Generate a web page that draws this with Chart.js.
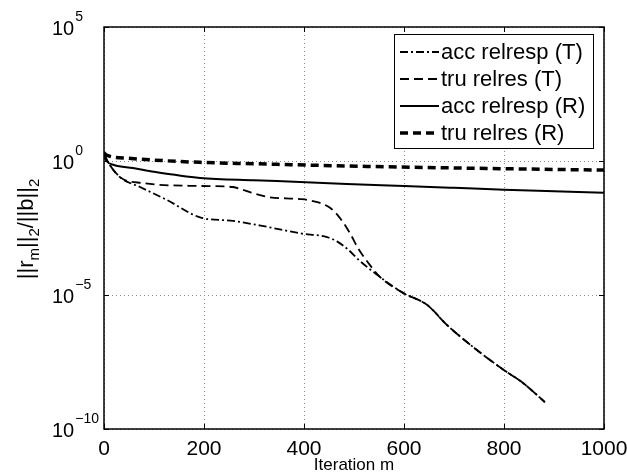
<!DOCTYPE html>
<html>
<head>
<meta charset="utf-8">
<script src="https://cdn.jsdelivr.net/npm/chart.js@4.4.0/dist/chart.umd.min.js"></script>
<style>
  html, body { margin: 0; padding: 0; background: #fff; }
</style>
</head>
<body>
<canvas id="myChart" width="627" height="476"></canvas>
<script>
// x axis
const xTicks = [0, 200, 400, 600, 800, 1000];
// y axis decades shown
const yTicks = [1e-10, 1e-5, 1e0, 1e5];
const yTickExp = ['\u221210', '\u22125', '0', '5'];

// acc relresp (T)
const accTIter = [0, 6, 32, 72, 126, 192, 258, 326, 392, 446, 466, 488, 510, 552, 598, 646, 686, 738, 792, 838, 882];
const accTRes = [1.6, 1.0, 0.25, 0.107, 0.035, 0.0079, 0.0058, 0.0035, 0.002, 0.00145, 0.001, 5e-4, 2e-4, 4.7e-5, 1.2e-5, 4.3e-6, 7.6e-7, 1.15e-7, 2.0e-8, 5.2e-9, 1.0e-9];

// tru relres (T)
const truTIter = [0, 6, 32, 78, 192, 258, 278, 326, 392, 418, 452, 472, 492, 508, 532, 552, 598, 646, 686, 738, 792, 838, 882];
const truTRes = [2.0, 1.1, 0.25, 0.15, 0.117, 0.107, 0.083, 0.046, 0.038, 0.032, 0.018, 0.0074, 0.002, 5.6e-4, 1.3e-4, 4.7e-5, 1.2e-5, 4.3e-6, 7.6e-7, 1.15e-7, 2.0e-8, 5.2e-9, 1.0e-9];

// acc relresp (R)
const accRIter = [0, 5, 20, 58, 100, 192, 300, 392, 486, 600, 700, 800, 900, 1000];
const accRRes = [1.58, 1.0, 0.708, 0.55, 0.398, 0.234, 0.19, 0.166, 0.138, 0.117, 0.1, 0.085, 0.074, 0.065];

// tru relres (R)
const truRIter = [0, 5, 50, 192, 300, 486, 700, 1000];
const truRRes = [2.0, 1.66, 1.26, 0.89, 0.79, 0.65, 0.55, 0.457];

const seriesLabels = ['acc relresp (T)', 'tru relres (T)', 'acc relresp (R)', 'tru relres (R)'];

const FONT = "'Liberation Sans', Arial, Helvetica, sans-serif";
Chart.defaults.font.family = FONT;
Chart.defaults.color = '#000';

function pts(xs, ys) {
  return xs.map((x, i) => ({ x: x, y: ys[i] }));
}

const frame = {
  id: 'frame',
  afterDraw(chart) {
    const ctx = chart.ctx;
    const a = chart.chartArea;
    const xs = chart.scales.x, ys = chart.scales.y;
    ctx.save();
    // box
    ctx.strokeStyle = '#000';
    ctx.lineWidth = 1.5;
    ctx.strokeRect(a.left, a.top, a.right - a.left, a.bottom - a.top);
    // inner ticks
    ctx.lineWidth = 1;
    ctx.beginPath();
    xTicks.forEach(v => {
      const px = Math.round(xs.getPixelForValue(v)) + 0.5;
      ctx.moveTo(px, a.bottom); ctx.lineTo(px, a.bottom - 5);
      ctx.moveTo(px, a.top); ctx.lineTo(px, a.top + 5);
    });
    yTicks.forEach(v => {
      const py = Math.round(ys.getPixelForValue(v)) + 0.5;
      ctx.moveTo(a.left, py); ctx.lineTo(a.left + 5, py);
      ctx.moveTo(a.right, py); ctx.lineTo(a.right - 5, py);
    });
    ctx.stroke();

    // y tick labels 10^n
    ctx.fillStyle = '#000';
    ctx.textBaseline = 'alphabetic';
    ctx.textAlign = 'left';
    yTicks.forEach((v, i) => {
      const py = ys.getPixelForValue(v);
      ctx.font = '20px ' + FONT;
      ctx.fillText('10', 52, py + 8);
      const w = ctx.measureText('10').width;
      ctx.font = '14px ' + FONT;
      ctx.fillText(yTickExp[i], 52 + w + 1, py - 6);
    });

    // y axis title ||r_m||_2/||b||_2
    const parts = [['||r', 0], ['m', 1], ['||', 0], ['2', 1], ['/||b||', 0], ['2', 1]];
    ctx.save();
    ctx.translate(33, 229);
    ctx.rotate(-Math.PI / 2);
    let total = 0;
    parts.forEach(p => {
      ctx.font = (p[1] ? '15px ' : '22px ') + FONT;
      total += ctx.measureText(p[0]).width;
    });
    let cx = -total / 2;
    parts.forEach(p => {
      ctx.font = (p[1] ? '15px ' : '22px ') + FONT;
      ctx.fillText(p[0], cx, p[1] ? 6 : 0);
      cx += ctx.measureText(p[0]).width;
    });
    ctx.restore();

    // legend
    const lx = 394, ly = 34, lw = 199, lh = 114;
    ctx.fillStyle = '#fff';
    ctx.fillRect(lx, ly, lw, lh);
    ctx.strokeStyle = '#000';
    ctx.lineWidth = 1;
    ctx.strokeRect(lx + 0.5, ly + 0.5, lw, lh);
    const rows = [52, 79, 106, 133];
    chart.data.datasets.forEach((ds, i) => {
      const ry = rows[i];
      ctx.save();
      ctx.strokeStyle = '#000';
      ctx.lineWidth = ds.borderWidth;
      ctx.setLineDash(ds.borderDash || []);
      ctx.beginPath();
      ctx.moveTo(400, ry); ctx.lineTo(439, ry);
      ctx.stroke();
      ctx.restore();
      ctx.fillStyle = '#000';
      ctx.font = '22px ' + FONT;
      ctx.textBaseline = 'middle';
      ctx.fillText(ds.label, 441, ry + 1);
    });
    ctx.restore();
  }
};

const ctx1 = document.getElementById('myChart').getContext('2d');
const chart1 = new Chart(ctx1, {
  type: 'line',
  data: {
    datasets: [
      { label: seriesLabels[0], data: pts(accTIter, accTRes), borderColor: '#000', borderWidth: 1.8, borderDash: [8, 3, 2, 3] },
      { label: seriesLabels[1], data: pts(truTIter, truTRes), borderColor: '#000', borderWidth: 1.8, borderDash: [9, 5] },
      { label: seriesLabels[2], data: pts(accRIter, accRRes), borderColor: '#000', borderWidth: 2, borderDash: [] },
      { label: seriesLabels[3], data: pts(truRIter, truRRes), borderColor: '#000', borderWidth: 3.5, borderDash: [8, 5] }
    ]
  },
  options: {
    responsive: false,
    animation: false,
    devicePixelRatio: 1,
    datasets: {
      line: {
        pointRadius: 0,
        fill: false,
        cubicInterpolationMode: 'monotone'
      }
    },
    layout: { autoPadding: false, padding: { top: 27, right: 23, left: 0, bottom: 0 } },
    plugins: { legend: { display: false }, tooltip: { enabled: false } },
    scales: {
      x: {
        type: 'linear',
        min: 0,
        max: 1000,
        afterBuildTicks: s => { s.ticks = xTicks.map(v => ({ value: v })); },
        afterFit: s => { s.height = 47; s.paddingLeft = 0; s.paddingRight = 0; },
        ticks: { font: { size: 21 }, color: '#000', padding: 8, maxRotation: 0, callback: v => String(v) },
        grid: { drawTicks: false, color: '#8c8c8c', lineWidth: 1 },
        border: { display: false, dash: [1, 3] },
        title: { display: true, text: 'Iteration m', font: { size: 17 }, color: '#000', padding: { top: 7, bottom: 0 } }
      },
      y: {
        type: 'logarithmic',
        min: 1e-10,
        max: 1e5,
        afterBuildTicks: s => { s.ticks = yTicks.map(v => ({ value: v })); },
        afterFit: s => { s.width = 104; s.paddingTop = 0; s.paddingBottom = 0; },
        ticks: { display: false },
        grid: { drawTicks: false, color: '#8c8c8c', lineWidth: 1 },
        border: { display: false, dash: [1, 3] }
      }
    }
  },
  plugins: [frame]
});
</script>
</body>
</html>
